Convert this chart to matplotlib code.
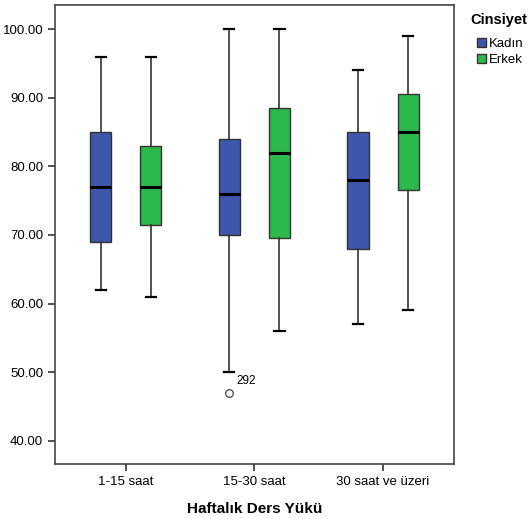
import matplotlib.pyplot as plt
from matplotlib.patches import Patch

plt.rcParams['font.family'] = ['Liberation Sans', 'DejaVu Sans']

# Haftalık ders yükü gruplari
categories = ['1-15 saat', '15-30 saat', '30 saat ve üzeri']
groups = ['Kadın', 'Erkek']
colors = ['#3E56AB', '#2DB84B']

# box stats per group: (whislo, q1, med, q3, whishi)
kadin_lo = [62, 50, 57]
kadin_q1 = [69, 70, 68]
kadin_med = [77, 76, 78]
kadin_q3 = [85, 84, 85]
kadin_hi = [96, 100, 94]

erkek_lo = [61, 56, 59]
erkek_q1 = [71.5, 69.5, 76.5]
erkek_med = [77, 82, 85]
erkek_q3 = [83, 88.5, 90.5]
erkek_hi = [96, 100, 99]

# outlier: Kadın, 15-30 saat
outlier_cat = 1
outlier_val = 47
outlier_label = '292'

fig = plt.figure(figsize=(5.31, 5.19), dpi=100)
ax = fig.add_axes([0.1036, 0.106, 0.751, 0.884])

series = [
    (kadin_lo, kadin_q1, kadin_med, kadin_q3, kadin_hi),
    (erkek_lo, erkek_q1, erkek_med, erkek_q3, erkek_hi),
]
offsets = [-0.195, 0.195]

for gi, (lo, q1, med, q3, hi) in enumerate(series):
    stats = []
    for ci in range(len(categories)):
        fl = [outlier_val] if (gi == 0 and ci == outlier_cat) else []
        stats.append({'whislo': lo[ci], 'q1': q1[ci], 'med': med[ci],
                      'q3': q3[ci], 'whishi': hi[ci], 'fliers': fl})
    pos = [i + offsets[gi] for i in range(len(categories))]
    ax.bxp(stats, positions=pos, widths=0.165, patch_artist=True,
           boxprops=dict(facecolor=colors[gi], edgecolor='#333333', linewidth=1),
           medianprops=dict(color='black', linewidth=2.2),
           whiskerprops=dict(color='#333333', linewidth=1.2),
           capprops=dict(color='black', linewidth=1.6),
           capwidths=0.08,
           flierprops=dict(marker='o', markerfacecolor='white',
                           markeredgecolor='#555555', markersize=5.5))

ax.annotate(outlier_label, (outlier_cat + offsets[0], outlier_val),
            xytext=(5, 6), textcoords='offset points', fontsize=8.5)

ax.set_xlim(-0.55, 2.55)
ax.set_ylim(36.6, 103.5)
ax.set_xticks(range(len(categories)))
ax.set_xticklabels(categories, fontsize=9.5)
ax.set_yticks([40, 50, 60, 70, 80, 90, 100])
ax.set_yticklabels(['%.2f' % v for v in [40, 50, 60, 70, 80, 90, 100]], fontsize=9.5)
ax.tick_params(direction='out', length=5, width=1.2, color='#333333')
for s in ax.spines.values():
    s.set_color('#444444')
    s.set_linewidth(1.2)

ax.set_xlabel('Haftalık Ders Yükü', fontsize=11, fontweight='bold', labelpad=10)

# legend title drawn separately for spacing
fig.text(470 / 531, 1 - 20 / 519, 'Cinsiyet', fontsize=10.5, fontweight='bold',
         ha='left', va='center')
handles = [Patch(facecolor=c, edgecolor='#333333', label=g) for g, c in zip(groups, colors)]
fig.legend(handles=handles, loc='upper left',
           bbox_to_anchor=(476 / 531, 1 - 37 / 519), frameon=False, fontsize=9.5,
           handlelength=0.65, handleheight=0.65, handletextpad=0.2,
           labelspacing=0.3, borderpad=0.1, borderaxespad=0)

fig.savefig('out.png', dpi=100)
